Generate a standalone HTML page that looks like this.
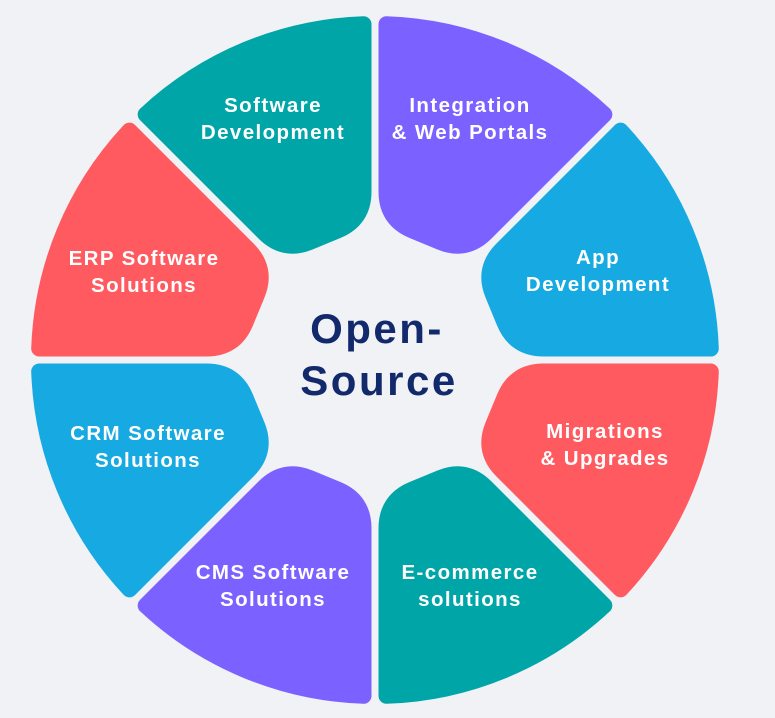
<!DOCTYPE html>
<html><head><meta charset="utf-8"><style>
html,body{margin:0;padding:0;background:#f0f2f6;}
body{width:775px;height:718px;overflow:hidden;position:relative;font-family:"Liberation Sans",sans-serif;}
svg{position:absolute;left:0;top:0;}
</style></head><body>
<svg id="s" width="775" height="718" viewBox="0 0 775 718"></svg>
<script>
(function(){
var s=document.getElementById('s');
var cx=375,cy=360,ro=336,h=134,d=11.5,sw=16,rc=28;
var cols=['#7b61ff','#17a9e1','#ff5a5f','#00a5a8','#7b61ff','#17a9e1','#ff5a5f','#00a5a8'];
var html='';
var t=Math.tan(22.5*Math.PI/180), c=Math.cos(22.5*Math.PI/180), sn=Math.sin(22.5*Math.PI/180);
var yc=h*t-d/c;
var eo=22.5*Math.PI/180-Math.asin(d/ro);
for(var i=0;i<8;i++){
 var m=(67.5-45*i)*Math.PI/180;
 var cm=Math.cos(m), sm=Math.sin(m);
 function P(x,y){
   var gx=x*cm - y*sm, gy=x*sm + y*cm;
   return (cx+gx).toFixed(2)+','+(cy-gy).toFixed(2);
 }
 var o1=P(ro*Math.cos(eo),ro*Math.sin(eo)), o2=P(ro*Math.cos(eo),-ro*Math.sin(eo));
 var path='M'+o1+' A'+ro+','+ro+' 0 0 1 '+o2+
  ' L'+P(h+rc*c,-yc-rc*sn)+' Q'+P(h,-yc)+' '+P(h,-yc+rc)+
  ' L'+P(h,yc-rc)+' Q'+P(h,yc)+' '+P(h+rc*c,yc+rc*sn)+' Z';
 html+='<path d="'+path+'" fill="'+cols[i]+'" stroke="'+cols[i]+'" stroke-width="'+sw+'" stroke-linejoin="round"/>';
}
var labels=[[470,112,'Integration','&amp; Web Portals'],[598,264,'App','Development'],[605,438,'Migrations','&amp; Upgrades'],[470,579,'E-commerce','solutions'],[273,579,'CMS Software','Solutions'],[148,440,'CRM Software','Solutions'],[144,265,'ERP Software','Solutions'],[273,112,'Software','Development']];
labels.forEach(function(l){
 var st='text-anchor="middle" fill="#fff" font-family="Liberation Sans, sans-serif" font-size="20.5" font-weight="bold" letter-spacing="1.4"';
 html+='<text x="'+l[0]+'" y="'+l[1]+'" '+st+'>'+l[2]+'</text>';
 html+='<text x="'+l[0]+'" y="'+(l[1]+27)+'" '+st+'>'+l[3]+'</text>';
});
var ct='text-anchor="middle" fill="#122a6b" font-family="Liberation Sans, sans-serif" font-size="42" font-weight="bold" letter-spacing="2.5"';
html+='<text x="377" y="343" '+ct+'>Open-</text>';
html+='<text x="379" y="395" '+ct+'>Source</text>';
s.innerHTML=html;
})();
</script>
</body></html>
